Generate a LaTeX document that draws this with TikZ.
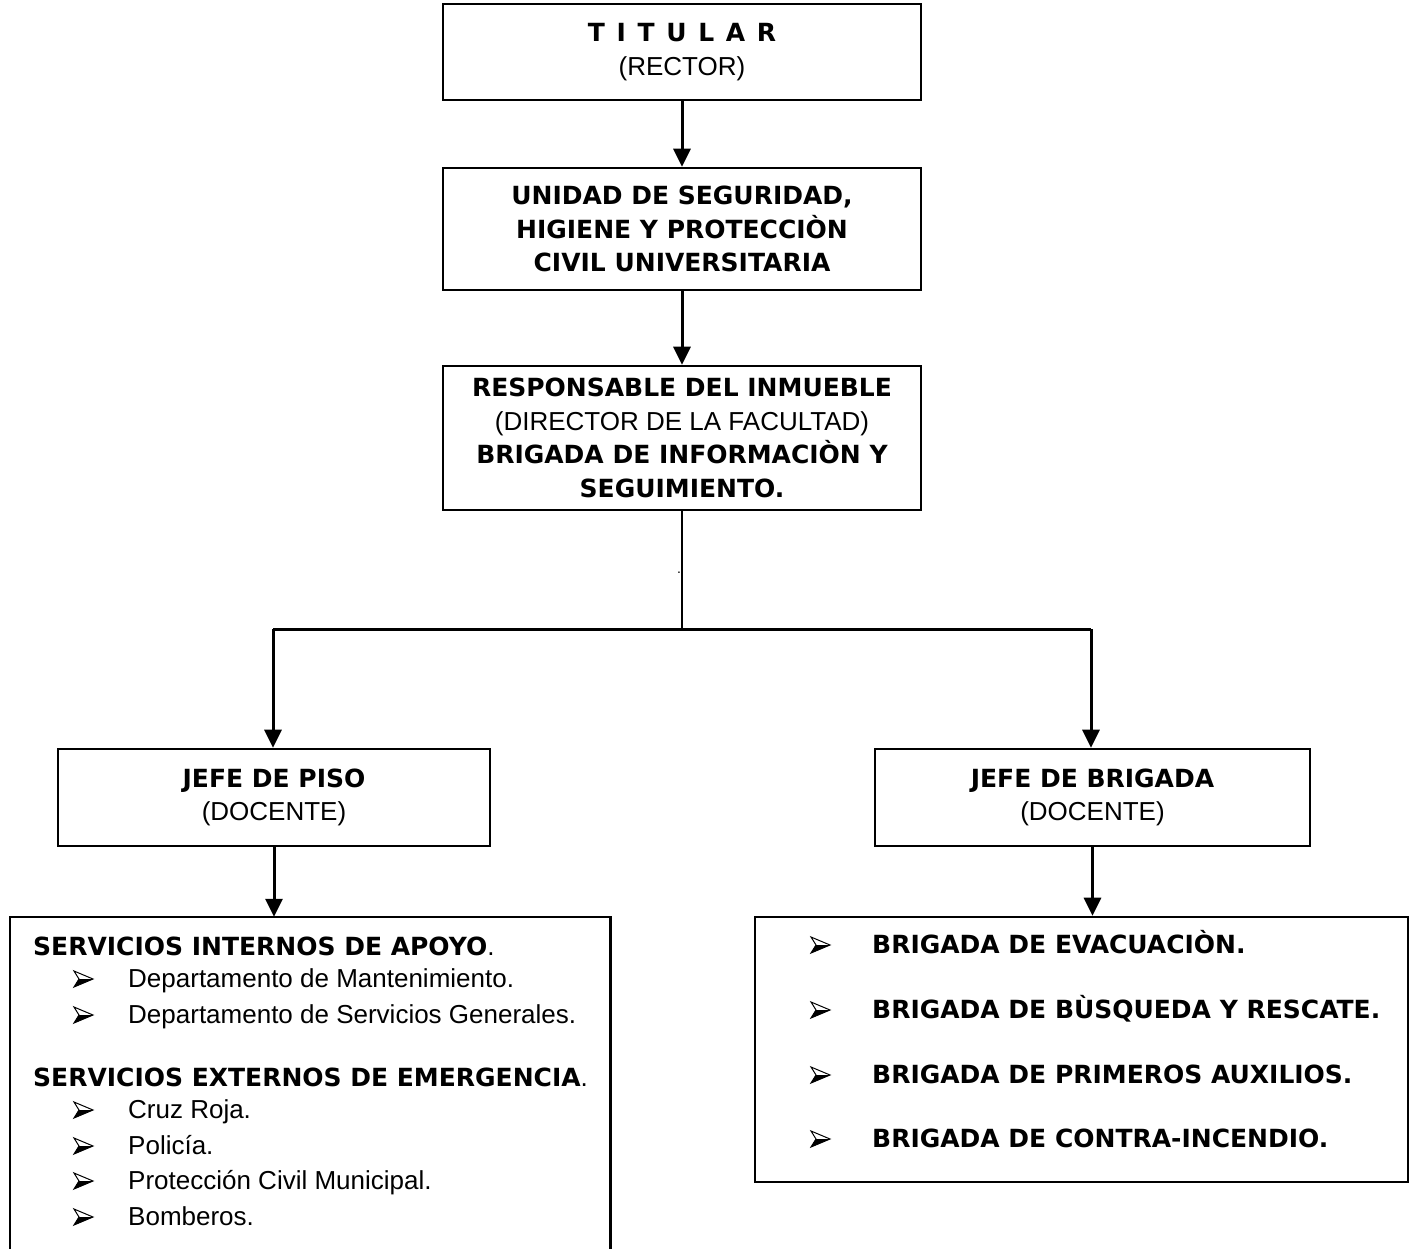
\documentclass[tikz,border=0pt]{standalone}
\usepackage{fontspec}
\setmainfont{Liberation Sans}
\newfontfamily\djv{DejaVu Sans}
\usetikzlibrary{arrows.meta}
\newcommand\myfs{\fontsize{26}{33.5}\selectfont}
\newcommand\B[1]{{\djv\bfseries\fontsize{25}{33.5}\selectfont #1}}
\tikzset{
  box/.style={draw, line width=2.6pt, inner sep=0pt, align=center, font=\myfs},
  conn/.style={line width=3pt},
  arr/.style={conn, -{Triangle[length=18pt,width=17pt]}},
  txt/.style={anchor=base west, inner sep=0pt, font=\myfs},
  wbul/.pic={
    \filldraw[fill=white, line width=1pt, line join=miter] (0,-8) -- (19,0) -- (0,8) -- (5,0) -- cycle;
    \fill (5,0) -- (19,0) -- (0,8) -- cycle;
  },
}
\begin{document}
\begin{tikzpicture}[x=1pt,y=-1pt]
\useasboundingbox (0,0) rectangle (1410,1249);
% top boxes
\node[box, minimum width=478pt, minimum height=96pt] (tit) at (682,52)
  {\B{\spaceskip=11.7pt T I T U L A R}\\(RECTOR)};
\node[box, minimum width=478pt, minimum height=122pt] (uni) at (682,229)
  {\B{UNIDAD DE SEGURIDAD,}\\\B{HIGIENE Y PROTECCIÒN}\\\B{CIVIL UNIVERSITARIA}};
\node[box, minimum width=478pt, minimum height=144pt] (res) at (682,438)
  {\B{RESPONSABLE DEL INMUEBLE}\\(DIRECTOR DE LA FACULTAD)\\\B{BRIGADA DE INFORMACIÒN Y}\\\B{SEGUIMIENTO.}};
\draw[arr] (tit.south) -- (uni.north);
\draw[arr] (uni.south) -- (res.north);
% branch
\coordinate (j) at (682,629);
\coordinate (jl) at (273,629);
\coordinate (jr) at (1091,629);
\draw[line width=1.8pt] (res.south) -- (j);
\node[inner sep=0pt, font=\fontsize{14}{14}\selectfont] (dot) at (679,573) {.};
\draw[conn] (jl) -- (jr);
% second level
\node[box, minimum width=432pt, minimum height=97pt] (piso) at (274,797.5)
  {\B{JEFE DE PISO}\\(DOCENTE)};
\node[box, minimum width=435pt, minimum height=97pt] (brig) at (1092.5,797.5)
  {\B{JEFE DE BRIGADA}\\(DOCENTE)};
\draw[arr] (jl) -- (jl |- piso.north);
\draw[arr] (jr) -- (jr |- brig.north);
% bottom boxes
\node[minimum width=600pt, minimum height=334pt, inner sep=0pt] (svc) at (310,1084) {};
\draw[line width=2.6pt] (svc.south west) -- (svc.north west) -- (svc.north east) -- (svc.south east);
\node[box, minimum width=653pt, minimum height=265pt] (brs) at (1081.5,1049.5) {};
\draw[arr] (piso.south) -- (piso.south |- svc.north);
\draw[arr] (brig.south) -- (brig.south |- brs.north);
% left list
\node[txt] (s1) at (33,955) {\B{SERVICIOS INTERNOS DE APOYO}.};
\pic at (74,979) {wbul};
\node[txt] (t1) at (128,987) {Departamento de Mantenimiento.};
\pic at (74,1015) {wbul};
\node[txt] (t2) at (128,1023) {Departamento de Servicios Generales.};
\node[txt] (s2) at (33,1086) {\B{SERVICIOS EXTERNOS DE EMERGENCIA}.};
\pic at (74,1110) {wbul};
\node[txt] (t3) at (128,1118) {Cruz Roja.};
\pic at (74,1146) {wbul};
\node[txt] (t4) at (128,1154) {Policía.};
\pic at (74,1181) {wbul};
\node[txt] (t5) at (128,1189) {Protección Civil Municipal.};
\pic at (74,1217) {wbul};
\node[txt] (t6) at (128,1225) {Bomberos.};
% right list
\pic at (811,945) {wbul};
\node[txt] (r1) at (872,953) {\B{BRIGADA DE EVACUACIÒN.}};
\pic at (811,1010) {wbul};
\node[txt] (r2) at (872,1018) {\B{BRIGADA DE BÙSQUEDA Y RESCATE.}};
\pic at (811,1075) {wbul};
\node[txt] (r3) at (872,1083) {\B{BRIGADA DE PRIMEROS AUXILIOS.}};
\pic at (811,1139) {wbul};
\node[txt] (r4) at (872,1147) {\B{BRIGADA DE CONTRA-INCENDIO.}};
\end{tikzpicture}
\end{document}
